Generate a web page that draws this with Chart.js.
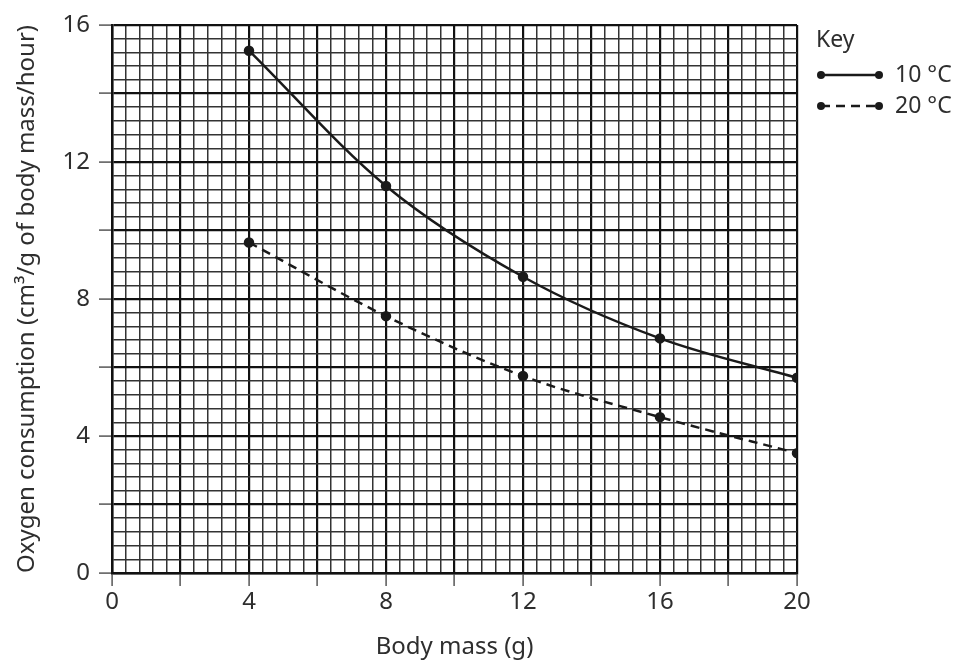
<!DOCTYPE html>
<html>
<head>
<meta charset="utf-8">
<script src="https://cdn.jsdelivr.net/npm/chart.js@4/dist/chart.umd.min.js"></script>
<style>
    html, body { margin: 0; padding: 0; background: #fff; }
    #wrap { width: 956px; height: 662px; }
</style>
</head>
<body>
<div id="wrap"><canvas id="grafico"></canvas></div>
<script>
const massa = [4, 8, 12, 16, 20];
const consumo10 = [15.25, 11.3, 8.65, 6.85, 5.7];
const consumo20 = [9.65, 7.5, 5.75, 4.55, 3.5];
const nomesSeries = ['10 °C', '20 °C'];
const rotulosX = [0, 4, 8, 12, 16, 20];
const rotulosY = [0, 4, 8, 12, 16];

const corTexto = '#2e2e2e';
const fonte = "'Noto Sans', 'Open Sans', sans-serif";

function multiplo(v, n) {
    return Math.abs(v / n - Math.round(v / n)) < 1e-6;
}

const legendaKey = {
    id: 'legendaKey',
    afterDraw(chart) {
        const ctx = chart.ctx;
        ctx.save();
        ctx.fillStyle = corTexto;
        ctx.font = '23px ' + fonte;
        ctx.textBaseline = 'middle';
        ctx.fillText('Key', 816, 40);
        chart.data.datasets.forEach((ds, i) => {
            const y = 75 + i * 31;
            ctx.strokeStyle = '#1a1a1a';
            ctx.lineWidth = 2.5;
            ctx.setLineDash(ds.borderDash || []);
            ctx.beginPath();
            ctx.moveTo(821, y);
            ctx.lineTo(879, y);
            ctx.stroke();
            ctx.setLineDash([]);
            ctx.fillStyle = '#1a1a1a';
            [821, 879].forEach(x => {
                ctx.beginPath();
                ctx.arc(x, y, 4, 0, Math.PI * 2);
                ctx.fill();
            });
            ctx.fillStyle = corTexto;
            ctx.fillText(ds.label, 895, y);
        });
        ctx.restore();
    }
};

const grade = {
    color: ctx => multiplo(ctx.tick.value, 2) ? '#111' : '#333',
    lineWidth: ctx => multiplo(ctx.tick.value, 2) ? 2.2 : 1.5,
    tickColor: ctx => multiplo(ctx.tick.value, 2) ? '#555' : 'rgba(0,0,0,0)',
    tickLength: 13,
    tickWidth: 1.5
};

new Chart(document.getElementById('grafico').getContext('2d'), {
    type: 'scatter',
    data: {
        datasets: [{
            label: nomesSeries[0],
            data: massa.map((m, i) => ({ x: m, y: consumo10[i] })),
            showLine: true,
            cubicInterpolationMode: 'monotone',
            borderColor: '#1a1a1a',
            backgroundColor: '#1a1a1a',
            borderWidth: 2.5,
            pointRadius: 4,
            pointHoverRadius: 4
        }, {
            label: nomesSeries[1],
            data: massa.map((m, i) => ({ x: m, y: consumo20[i] })),
            showLine: true,
            cubicInterpolationMode: 'monotone',
            borderColor: '#1a1a1a',
            backgroundColor: '#1a1a1a',
            borderWidth: 2.5,
            borderDash: [9, 6],
            pointRadius: 4,
            pointHoverRadius: 4
        }]
    },
    options: {
        responsive: true,
        maintainAspectRatio: false,
        animation: false,
        layout: { padding: { top: 25, right: 159, bottom: 0, left: 0 } },
        plugins: {
            legend: { display: false },
            tooltip: { enabled: false }
        },
        scales: {
            x: {
                type: 'linear',
                min: 0,
                max: 20,
                afterFit: s => { s.height = 89; },
                ticks: {
                    stepSize: 0.4,
                    autoSkip: false,
                    maxRotation: 0,
                    padding: 2,
                    color: corTexto,
                    font: { size: 24, family: fonte },
                    callback: v => rotulosX.some(r => Math.abs(r - v) < 1e-6) ? Math.round(v) : ''
                },
                grid: grade,
                border: { color: '#111', width: 2.5 },
                title: {
                    display: true,
                    text: 'Body mass (g)',
                    color: corTexto,
                    font: { size: 24, family: fonte },
                    padding: { top: 2, bottom: 0 }
                }
            },
            y: {
                type: 'linear',
                min: 0,
                max: 16,
                afterFit: s => { s.width = 112; },
                ticks: {
                    stepSize: 0.4,
                    autoSkip: false,
                    padding: 9,
                    color: corTexto,
                    font: { size: 24, family: fonte },
                    callback: v => rotulosY.some(r => Math.abs(r - v) < 1e-6) ? Math.round(v) : ''
                },
                grid: grade,
                border: { color: '#111', width: 2.5 },
                title: {
                    display: true,
                    text: 'Oxygen consumption (cm³/g of body mass/hour)',
                    color: corTexto,
                    font: { size: 24, family: fonte },
                    padding: { top: 13, bottom: 0 }
                }
            }
        }
    },
    plugins: [legendaKey]
});
</script>
</body>
</html>
